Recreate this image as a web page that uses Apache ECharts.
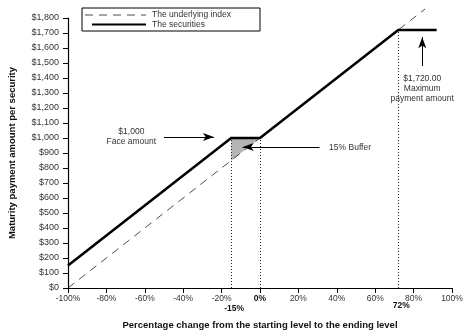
<!DOCTYPE html>
<html>
<head>
<meta charset="utf-8">
<script src="https://cdn.jsdelivr.net/npm/echarts@6/dist/echarts.min.js"></script>
<style>
  html, body { margin: 0; padding: 0; background: #fff; }
  #chart { width: 468px; height: 335px; }
</style>
</head>
<body>
<div id="chart"></div>
<script>
// Payoff of the securities at maturity (percentage change -> payment per $1,000)
const payoffPct = [-100, -15, 0, 72, 92];
const payoffAmt = [150, 1000, 1000, 1720, 1720];

// Direct exposure to the underlying index
const indexPct = [-100, 86];
const indexAmt = [0, 1860];

// Shaded buffer region
const bufferPct = [-15, -15, 0];
const bufferAmt = [850, 1000, 1000];

// Dotted drop lines to the horizontal axis
const dropPct = [-15, 0, 72];
const dropAmt = [1000, 1000, 1720];

// Extra bold labels under the axis
const keyLabels = ['-15%', '72%'];
const keyPct = [-15, 72];

const xTicks = { min: -100, max: 100, step: 20 };
const yTicks = { min: 0, max: 1800, step: 100 };

const FONT = '"Liberation Sans", Arial, sans-serif';

const chart = echarts.init(document.getElementById('chart'));

const dropLines = dropPct.map((p, i) => [
  { coord: [p, 0], symbol: 'none' },
  { coord: [p, dropAmt[i]], symbol: 'none' }
]);

const arrowStyle = { color: '#000', width: 1, type: 'solid' };
const arrow = (a, b) => [
  { coord: a, symbol: 'none', lineStyle: arrowStyle },
  { coord: b, symbol: 'arrow', symbolSize: [6, 11], lineStyle: arrowStyle }
];

chart.setOption({
  animation: false,
  grid: { left: 68, right: 16, top: 18, bottom: 47 },
  xAxis: {
    type: 'value',
    min: xTicks.min, max: xTicks.max, interval: xTicks.step,
    axisLine: { onZero: false, lineStyle: { color: '#000', width: 1.2 } },
    axisTick: { show: true, length: 5, lineStyle: { color: '#000' } },
    splitLine: { show: false },
    axisLabel: {
      color: '#333', fontFamily: FONT, fontSize: 8.5, margin: 6,
      formatter: v => v === 0 ? '{b|0%}' : v + '%',
      rich: { b: { fontWeight: 'bold', fontFamily: FONT, fontSize: 8.5, color: '#111' } }
    }
  },
  yAxis: {
    type: 'value',
    min: yTicks.min, max: yTicks.max, interval: yTicks.step,
    axisLine: { show: true, onZero: false, lineStyle: { color: '#000', width: 1.2 } },
    axisTick: { show: true, length: 5, lineStyle: { color: '#000' } },
    splitLine: { show: false },
    axisLabel: {
      color: '#333', fontFamily: FONT, fontSize: 9, margin: 9,
      formatter: v => '$' + v.toLocaleString('en-US')
    }
  },
  series: [
    {
      name: 'buffer',
      type: 'custom',
      renderItem: (params, api) => {
        const pts = bufferPct.map((p, i) => api.coord([p, bufferAmt[i]]));
        return {
          type: 'polygon',
          shape: { points: pts },
          style: { fill: '#b4b4b4', stroke: null }
        };
      },
      data: [[0, 0]],
      clip: false,
      z: 1
    },
    {
      name: 'The underlying index',
      type: 'line',
      data: indexPct.map((p, i) => [p, indexAmt[i]]),
      symbol: 'none',
      clip: false,
      lineStyle: { color: '#222', width: 0.8, type: [8, 6] },
      z: 2
    },
    {
      name: 'The securities',
      type: 'line',
      data: payoffPct.map((p, i) => [p, payoffAmt[i]]),
      symbol: 'none',
      lineStyle: { color: '#000', width: 2.6, join: 'miter' },
      z: 4,
      markLine: {
        silent: true,
        symbol: 'none',
        label: { show: false },
        lineStyle: { color: '#222', width: 1, type: [1, 2] },
        data: [
          ...dropLines,
          arrow([-50, 1007], [-24, 1007]),
          arrow([31, 940], [-9, 940]),
          arrow([84.5, 1480], [84.5, 1672])
        ]
      }
    }
  ]
});

// Annotations, legend and axis titles placed through the axis scales
const px = (p, a) => chart.convertToPixel({ gridIndex: 0 }, [p, a]);
const txt = (pos, text, opts = {}) => ({
  type: 'text',
  x: pos[0], y: pos[1],
  style: Object.assign({
    text, fill: '#333', font: '8.5px ' + FONT,
    align: 'center', verticalAlign: 'middle', lineHeight: 10
  }, opts),
  z: 10
});

const axisBottom = px(0, 0)[1];
const graphics = [];

keyLabels.forEach((t, i) => {
  const p = px(keyPct[i], 0);
  graphics.push(txt([p[0] + 3, axisBottom + (i === 0 ? 21 : 18)], t,
    { font: 'bold 8.5px ' + FONT, fill: '#111' }));
});

graphics.push(txt(px(-67, 1007), '$1,000\nFace amount'));
graphics.push(txt(px(36, 935), '15% Buffer', { align: 'left' }));
graphics.push(txt(px(84.5, 1330), '$1,720.00\nMaximum\npayment amount'));

// Axis titles
graphics.push(txt([260, 325], 'Percentage change from the starting level to the ending level',
  { font: 'bold 9.5px ' + FONT, fill: '#111' }));
graphics.push({
  type: 'text', x: 12, y: 153, rotation: Math.PI / 2,
  style: {
    text: 'Maturity payment amount per security', fill: '#111',
    font: 'bold 9.5px ' + FONT, align: 'center', verticalAlign: 'middle'
  },
  z: 10
});

// Legend box
graphics.push({
  type: 'group', x: 82, y: 8, z: 20,
  children: [
    { type: 'rect', shape: { x: 0, y: 0, width: 178, height: 23 },
      style: { fill: '#fff', stroke: '#000', lineWidth: 1 } },
    { type: 'line', shape: { x1: 3, y1: 7, x2: 64, y2: 7 },
      style: { stroke: '#222', lineWidth: 0.8, lineDash: [8, 6] } },
    { type: 'line', shape: { x1: 10, y1: 16.5, x2: 64, y2: 16.5 },
      style: { stroke: '#000', lineWidth: 2.2 } },
    { type: 'text', x: 70, y: 7,
      style: { text: 'The underlying index', fill: '#333', font: '8.5px ' + FONT, verticalAlign: 'middle' } },
    { type: 'text', x: 70, y: 16.5,
      style: { text: 'The securities', fill: '#333', font: '8.5px ' + FONT, verticalAlign: 'middle' } }
  ]
});

chart.setOption({ graphic: graphics });
</script>
</body>
</html>
